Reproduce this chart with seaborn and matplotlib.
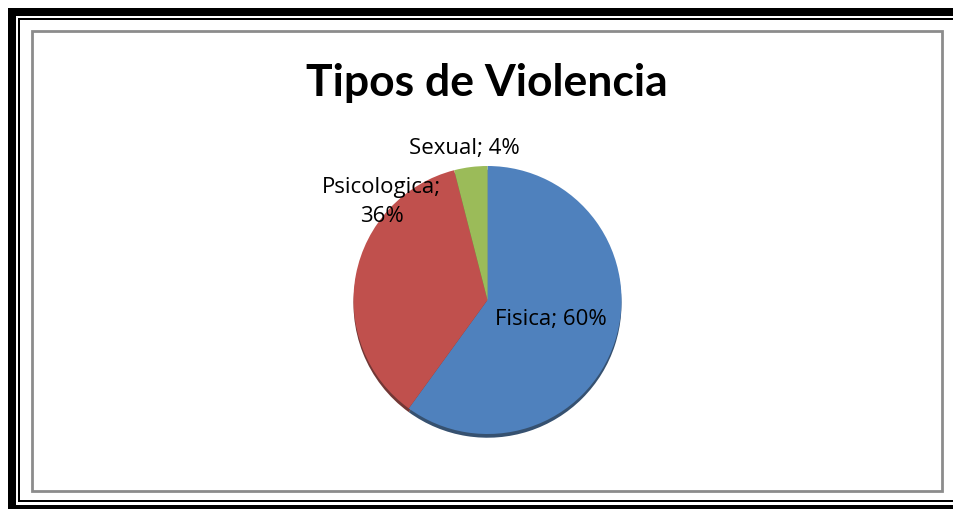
import matplotlib
matplotlib.use("Agg")
import matplotlib.pyplot as plt
import seaborn as sns
import numpy as np
from matplotlib.patches import Rectangle

# ---- data ----
categories = ["Fisica", "Psicologica", "Sexual"]
values = [60, 36, 4]
colors = ["#4F81BD", "#C0504D", "#9BBB59"]
title = "Tipos de Violencia"

sns.set_theme(style="white")
plt.rcParams["font.family"] = ["Lato", "DejaVu Sans"]

W, H = 954, 510
fig = plt.figure(figsize=(W / 100, H / 100), dpi=100)
fig.patch.set_facecolor("white")

def px_rect(x0, y0, x1, y1, z, **kw):
    # pixel coords (top-left origin) -> figure fraction
    fig.add_artist(Rectangle((x0 / W, 1 - y1 / H), (x1 - x0) / W, (y1 - y0) / H,
                             transform=fig.transFigure, zorder=z, **kw))

# outer thick black frame (cropped at right/bottom)
px_rect(8, 9, 1000, 540, -10, facecolor="black", edgecolor="none")
px_rect(16, 17, 990, 506, -9, facecolor="white", edgecolor="none")
# thin black frame line
px_rect(18, 19, 990, 503, -8, facecolor="black", edgecolor="none")
px_rect(20, 21, 990, 501, -7, facecolor="white", edgecolor="none")
# gray chart border
px_rect(32, 32, 942, 492, -6, facecolor="white", edgecolor="#8c8c8c", linewidth=2)

# title
fig.text(487 / W, 1 - 83 / H, title, ha="center", va="center",
         fontsize=32, fontweight="bold", color="black")

# pie axes
cx, cy, r = 487.5, 301, 134
ax = fig.add_axes([(cx - r) / W, 1 - (cy + r) / H, 2 * r / W, 2 * r / H])
ax.set_zorder(5)
ax.patch.set_alpha(0)
wedges, _ = ax.pie(values, colors=colors, startangle=90, counterclock=False,
                   radius=1.0,
                   shadow={"ox": 0.0, "oy": -0.02, "shade": 0.45, "alpha": 0.95},
                   wedgeprops={"linewidth": 0})
ax.set_xlim(-1, 1)
ax.set_ylim(-1, 1)
ax.set_aspect("auto")
ax.axis("off")

lbl_kw = dict(fontsize=16, color="black", ha="center", va="center",
              family=["Open Sans", "DejaVu Sans"])
# Fisica label inside wedge
w = wedges[0]
mid = np.deg2rad((w.theta1 + w.theta2) / 2)
ax.text(0.5 * np.cos(mid), 0.5 * np.sin(mid) + 0.02,
        f"{categories[0]}; {values[0]}%", **lbl_kw)
# Psicologica label outside (two lines)
ax.text(-0.79, 0.74, f"{categories[1]};\n{values[1]}%", linespacing=1.5, **lbl_kw)
# Sexual label outside
ax.text(-0.17, 1.14, f"{categories[2]}; {values[2]}%", **lbl_kw)

fig.savefig("out.png", dpi=100)
